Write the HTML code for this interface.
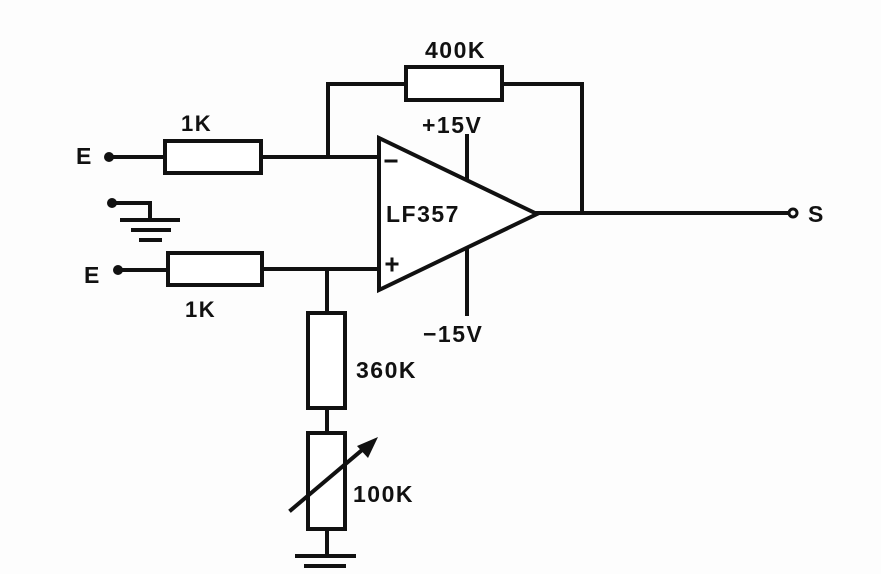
<!DOCTYPE html>
<html><head><style>
html,body{margin:0;padding:0;background:#fff;}
svg{display:block}
text{font-family:"Liberation Sans",sans-serif;font-weight:bold;fill:#111;letter-spacing:1.5px;}
</style></head><body>
<svg width="881" height="574" viewBox="0 0 881 574" xmlns="http://www.w3.org/2000/svg">
<rect width="881" height="574" fill="#fdfdfd"/>
<g stroke="#111" stroke-width="4" fill="none" stroke-linecap="square">
<line x1="109" y1="157" x2="163" y2="157"/>
<rect x="165" y="141" width="96" height="32" fill="#fff"/>
<line x1="261" y1="157" x2="378" y2="157"/>
<polyline points="328,157 328,84 406,84"/>
<rect x="406" y="67" width="96" height="33" fill="#fff"/>
<polyline points="502,84 582,84 582,213"/>
<line x1="118" y1="270" x2="168" y2="270"/>
<rect x="168" y="253" width="94" height="32" fill="#fff"/>
<line x1="262" y1="269" x2="376" y2="269"/>
<line x1="327" y1="269" x2="327" y2="313"/>
<rect x="308" y="313" width="37" height="95" fill="#fff"/>
<line x1="327" y1="408" x2="327" y2="433"/>
<rect x="308" y="433" width="37" height="96" fill="#fff"/>
<line x1="327" y1="529" x2="327" y2="555"/>
<line x1="297" y1="556" x2="354" y2="556"/>
<line x1="306" y1="566" x2="344" y2="566"/>
<line x1="291" y1="510" x2="368" y2="445"/>
<polygon points="379,138 379,290 537,214" fill="#fff"/>
<line x1="467" y1="136" x2="467" y2="177"/>
<line x1="467" y1="251" x2="467" y2="314"/>
<line x1="537" y1="213" x2="789" y2="213"/>
<polyline points="112,203 150,203 150,218"/>
<line x1="122" y1="220" x2="178" y2="220"/>
<line x1="133" y1="230" x2="169" y2="230"/>
<line x1="141" y1="240" x2="160" y2="240"/>
<line x1="386" y1="161" x2="396" y2="161" stroke-width="3"/>
<line x1="387" y1="264" x2="397" y2="264" stroke-width="3"/>
<line x1="392" y1="259" x2="392" y2="270" stroke-width="3"/>
</g>
<polygon points="378,437 357,446 368,458" fill="#111"/>
<g fill="#111">
<circle cx="109" cy="157" r="5"/>
<circle cx="112" cy="203" r="5"/>
<circle cx="118" cy="270" r="5"/>
</g>
<circle cx="793" cy="213" r="4" fill="#fff" stroke="#111" stroke-width="3"/>
<text x="76" y="164" font-size="23">E</text>
<text x="84" y="283" font-size="23">E</text>
<text x="808" y="222" font-size="23">S</text>
<text x="181" y="131" font-size="22">1K</text>
<text x="185" y="317" font-size="22">1K</text>
<text x="425" y="58" font-size="23">400K</text>
<text x="422" y="133" font-size="23">+15V</text>
<text x="423" y="342" font-size="23">−15V</text>
<text x="386" y="222" font-size="23">LF357</text>
<text x="356" y="378" font-size="23">360K</text>
<text x="353" y="502" font-size="23">100K</text>
</svg>
</body></html>
